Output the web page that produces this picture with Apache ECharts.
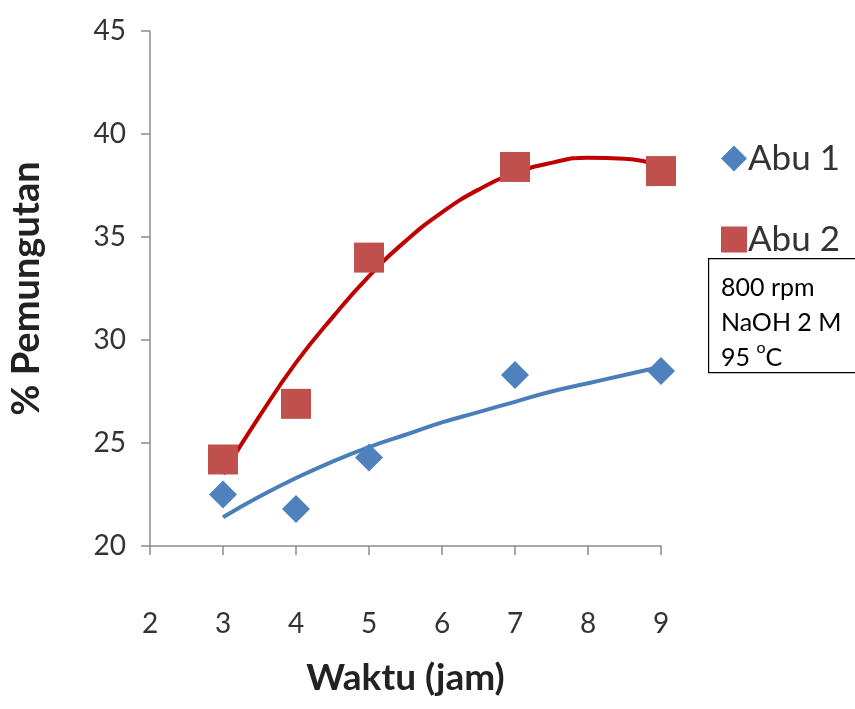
<!DOCTYPE html>
<html>
<head>
<meta charset="utf-8">
<script src="https://cdn.jsdelivr.net/npm/echarts@6/dist/echarts.min.js"></script>
<style>html,body{margin:0;padding:0;background:#fff;}#c{width:855px;height:709px;}</style>
</head>
<body>
<div id="c"></div>
<script>
// Measured points
const waktu = [3, 4, 5, 7, 9];
const abu1 = [22.5, 21.8, 24.3, 28.3, 28.5];
const abu2 = [24.2, 26.9, 34.0, 38.4, 38.2];
// Trendlines
const trendX = [3, 3.5, 4, 4.5, 5, 5.5, 6, 6.5, 7, 7.5, 8, 8.5, 9];
const trend1 = [21.4, 22.4, 23.3, 24.1, 24.8, 25.4, 26.0, 26.5, 27.0, 27.5, 27.9, 28.3, 28.7];
const trend2 = [23.5, 26.3, 28.9, 31.1, 33.1, 34.8, 36.2, 37.3, 38.1, 38.6, 38.85, 38.8, 38.45];
const xTicks = [2, 3, 4, 5, 6, 7, 8, 9];
const yTicks = [20, 25, 30, 35, 40, 45];

const FONT = 'Lato';
const chart = echarts.init(document.getElementById('c'));
const pair = (xs, ys) => xs.map((x, i) => [x, ys[i]]);
chart.setOption({
  animation: false,
  textStyle: {fontFamily: FONT},
  grid: {left: 150, right: 194, top: 31, bottom: 163, outerBoundsMode: 'none', containLabel: false},
  xAxis: {
    type: 'value', min: xTicks[0], max: xTicks[xTicks.length - 1], interval: 1,
    name: 'Waktu (jam)', nameLocation: 'middle', nameGap: 114,
    nameTextStyle: {fontSize: 37, fontWeight: 'bold', color: '#222', fontFamily: FONT},
    axisLine: {lineStyle: {color: '#8c8c8c', width: 1.5}},
    axisTick: {show: true, inside: false, length: 9, lineStyle: {color: '#8c8c8c', width: 1.5}},
    axisLabel: {fontSize: 28, color: '#333', margin: 64, fontFamily: FONT},
    splitLine: {show: false}
  },
  yAxis: {
    type: 'value', min: yTicks[0], max: yTicks[yTicks.length - 1], interval: 5,
    name: '% Pemungutan', nameLocation: 'middle', nameGap: 104, nameRotate: 90,
    nameTextStyle: {fontSize: 38, fontWeight: 'bold', color: '#222', fontFamily: FONT},
    axisLine: {show: true, lineStyle: {color: '#8c8c8c', width: 1.5}},
    axisTick: {show: true, inside: false, length: 9, lineStyle: {color: '#8c8c8c', width: 1.5}},
    axisLabel: {fontSize: 28, color: '#333', margin: 24, fontFamily: FONT},
    splitLine: {show: false}
  },
  legend: {
    orient: 'vertical', left: 716, top: 136, itemGap: 46, itemWidth: 26, itemHeight: 26,
    data: [{name: 'Abu 1', icon: 'diamond'}, {name: 'Abu 2', icon: 'rect'}],
    textStyle: {fontSize: 35, color: '#333', fontFamily: FONT, padding: [0, 0, 0, -4]}
  },
  graphic: [
    {type: 'rect', left: 708, top: 258, shape: {width: 150, height: 114},
     style: {fill: '#fff', stroke: '#000', lineWidth: 1.2}, z: 10},
    {type: 'text', left: 721, top: 270, z: 11,
     style: {text: '800 rpm\nNaOH 2 M\n95 {sup|o}C', fill: '#000', font: '25px ' + FONT, lineHeight: 35,
       rich: {sup: {fontSize: 16, verticalAlign: 'top', padding: [0, 0, 12, 0], fontFamily: FONT}}}}
  ],
  series: [
    {name: 'trend1', type: 'line', data: pair(trendX, trend1), smooth: true, showSymbol: false,
     lineStyle: {color: '#4a7ebb', width: 4}, z: 2, silent: true},
    {name: 'trend2', type: 'line', data: pair(trendX, trend2), smooth: true, showSymbol: false,
     lineStyle: {color: '#c00000', width: 4}, z: 2, silent: true},
    {name: 'Abu 1', type: 'scatter', data: pair(waktu, abu1), symbol: 'diamond', symbolSize: 28,
     itemStyle: {color: '#4f81bd', opacity: 1}, z: 3},
    {name: 'Abu 2', type: 'scatter', data: pair(waktu, abu2), symbol: 'rect', symbolSize: 30,
     itemStyle: {color: '#c0504d', opacity: 1}, z: 3}
  ]
});
</script>
</body>
</html>
